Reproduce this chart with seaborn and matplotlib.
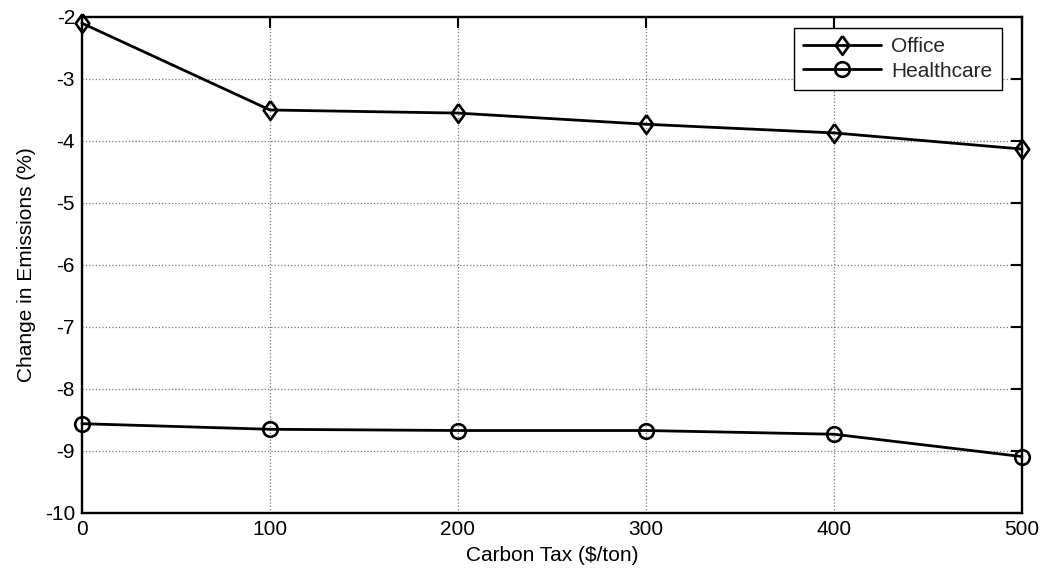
import numpy as np
import pandas as pd
import seaborn as sns
import matplotlib.pyplot as plt

# --- Data ---
carbon_tax = [0, 100, 200, 300, 400, 500]
office = [-2.10, -3.50, -3.55, -3.73, -3.87, -4.13]
healthcare = [-8.56, -8.65, -8.67, -8.67, -8.73, -9.09]

df = pd.DataFrame({'tax': carbon_tax, 'Office': office, 'Healthcare': healthcare})

sns.set_theme(style='white')
plt.rcParams['font.family'] = ['Liberation Sans', 'DejaVu Sans']
plt.rcParams['axes.unicode_minus'] = False

# diamond a bit wider than matplotlib's 'd'
diamond = [(0, 1), (0.72, 0), (0, -1), (-0.72, 0), (0, 1)]

fig = plt.figure(figsize=(10.47, 5.78), dpi=100)
ax = fig.add_axes([0.0783, 0.1125, 0.8978, 0.8581])

sns.lineplot(data=df, x='tax', y='Office', ax=ax, color='black', lw=2.0,
             marker=diamond, markersize=13.5, markerfacecolor='none',
             markeredgecolor='black', markeredgewidth=1.9, label='Office',
             clip_on=False, zorder=3)
sns.lineplot(data=df, x='tax', y='Healthcare', ax=ax, color='black', lw=2.0,
             marker='o', markersize=10.5, markerfacecolor='none',
             markeredgecolor='black', markeredgewidth=1.9, label='Healthcare',
             clip_on=False, zorder=3)

ax.set_xlim(0, 500)
ax.set_ylim(-10, -2)
ax.set_xticks(carbon_tax)
ax.set_yticks(np.arange(-10, -1, 1))
ax.grid(True, linestyle=':', color='#777777', linewidth=0.9)

ax.tick_params(direction='in', length=8, width=1.5, top=True, right=True,
               labelsize=15, colors='black', pad=5)
for s in ax.spines.values():
    s.set_color('black')
    s.set_linewidth(1.7)

ax.set_xlabel('Carbon Tax ($/ton)', fontsize=15, color='black', labelpad=5)
ax.set_ylabel('Change in Emissions (%)', fontsize=15, color='black', labelpad=6)

leg = ax.legend(loc='upper right', bbox_to_anchor=(0.9787, 0.9778), borderaxespad=0,
                fontsize=15, frameon=True, fancybox=False, edgecolor='black',
                handlelength=3.75, borderpad=0.45, labelspacing=0.25,
                handletextpad=0.5)
leg.get_frame().set_linewidth(1.0)
leg.get_frame().set_alpha(1)

fig.savefig('out.png', dpi=100)
